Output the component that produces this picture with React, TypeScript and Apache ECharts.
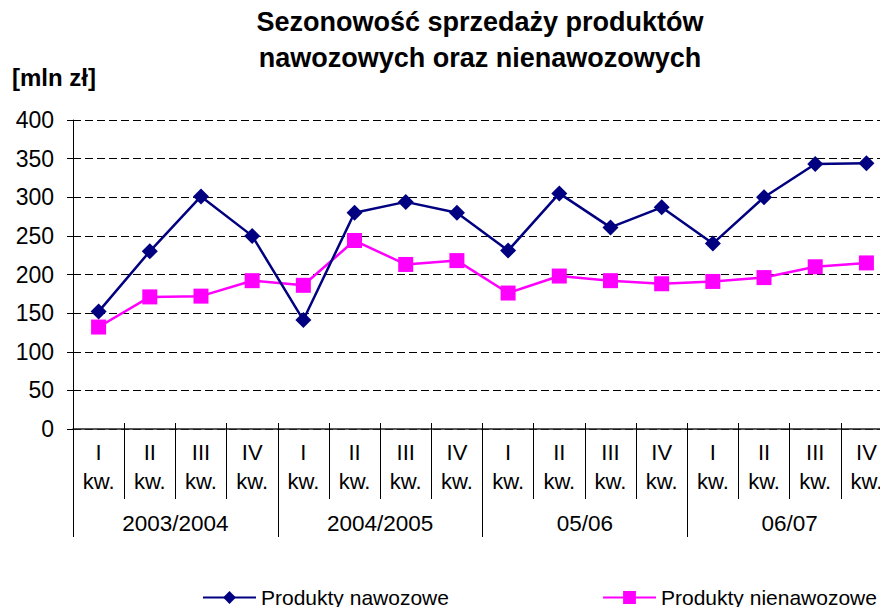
import React, { useEffect, useRef } from "react";
import * as echarts from "echarts";

const quarters = ["I\nkw.", "II\nkw.", "III\nkw.", "IV\nkw.", "I\nkw.", "II\nkw.", "III\nkw.", "IV\nkw.", "I\nkw.", "II\nkw.", "III\nkw.", "IV\nkw.", "I\nkw.", "II\nkw.", "III\nkw.", "IV\nkw."];
const years = ["2003/2004", "2004/2005", "05/06", "06/07"];
const nawozowe = [152, 230, 301, 250, 141, 280, 294, 280, 231, 305, 261, 287, 240, 300, 343, 344];
const nienawozowe = [132, 171, 172, 192, 186, 244, 213, 218, 176, 198, 192, 188, 191, 196, 210, 215];
const titleText = "Sezonowość sprzedaży produktów\nnawozowych oraz nienawozowych";
const unitText = "[mln zł]";
const seriesNames = ["Produkty nawozowe", "Produkty nienawozowe"];

const FONT = "'Liberation Sans', Arial, sans-serif";

export default function App() {
  const ref = useRef<HTMLDivElement>(null);
  useEffect(() => {
    if (!ref.current) return;
    const chart = echarts.init(ref.current, null, { renderer: "svg" });
    const gridLeft = 73;
    const gridWidth = 819;
    chart.setOption({
      animation: false,
      textStyle: { fontFamily: FONT, color: "#000" },
      title: [
        {
          text: titleText,
          left: 480,
          top: 4,
          padding: 0,
          textAlign: "center",
          textStyle: { fontFamily: FONT, fontWeight: "bold", fontSize: 27, lineHeight: 36, color: "#000" },
        },
        {
          text: unitText,
          left: 12,
          top: 65,
          padding: 0,
          textStyle: { fontFamily: FONT, fontWeight: "bold", fontSize: 24, color: "#000" },
        },
      ],
      legend: [
        {
          data: [seriesNames[0]],
          left: 202,
          top: 587,
          padding: 0,
          itemWidth: 53,
          itemHeight: 16,
          itemGap: 5,
          textStyle: { fontFamily: FONT, fontSize: 21, color: "#000" },
        },
        {
          data: [seriesNames[1]],
          left: 602,
          top: 587,
          padding: 0,
          itemWidth: 53,
          itemHeight: 16,
          itemGap: 5,
          textStyle: { fontFamily: FONT, fontSize: 21, color: "#000" },
        },
      ],
      grid: { left: gridLeft, top: 120, width: gridWidth, height: 309, containLabel: false },
      xAxis: [
        {
          type: "category",
          data: quarters,
          boundaryGap: true,
          position: "bottom",
          axisLine: { show: true, lineStyle: { color: "#222", width: 1.5 } },
          axisTick: { show: true, interval: 0, length: 70, lineStyle: { color: "#000", width: 1 } },
          axisLabel: {
            interval: 0,
            margin: 9,
            fontFamily: FONT,
            fontSize: 22,
            lineHeight: 29,
            color: "#000",
          },
          splitLine: { show: false },
        },
        {
          type: "category",
          data: years,
          boundaryGap: true,
          position: "bottom",
          axisLine: { show: false },
          axisTick: { show: true, interval: 0, length: 108, lineStyle: { color: "#000", width: 1 } },
          axisLabel: {
            interval: 0,
            margin: 83,
            fontFamily: FONT,
            fontSize: 22.5,
            color: "#000",
          },
          splitLine: { show: false },
        },
        {
          type: "category",
          data: quarters,
          boundaryGap: true,
          position: "bottom",
          axisLine: { show: false },
          axisTick: { show: true, inside: true, interval: 0, length: 6, lineStyle: { color: "#000", width: 1 } },
          axisLabel: { show: false },
          splitLine: { show: false },
        },
      ],
      yAxis: {
        type: "value",
        min: 0,
        max: 400,
        interval: 50,
        axisLine: { show: true, lineStyle: { color: "#000", width: 1 } },
        axisTick: { show: true, length: 6, lineStyle: { color: "#000" } },
        axisLabel: { margin: 19, fontFamily: FONT, fontSize: 23, color: "#000" },
        splitLine: { show: true, lineStyle: { color: "#000", width: 1, type: [8, 4] } },
      },
      series: [
        {
          name: seriesNames[0],
          type: "line",
          xAxisIndex: 0,
          data: nawozowe,
          symbol: "diamond",
          symbolSize: 16,
          itemStyle: { color: "#000080" },
          lineStyle: { color: "#000080", width: 2.5 },
          z: 3,
        },
        {
          name: seriesNames[1],
          type: "line",
          xAxisIndex: 0,
          data: nienawozowe,
          symbol: "rect",
          symbolSize: 15,
          itemStyle: { color: "#FF00FF" },
          lineStyle: { color: "#FF00FF", width: 2.5 },
          z: 2,
        },
      ],
    });
    return () => chart.dispose();
  }, []);
  return (
    <div style={{ position: "fixed", left: 0, top: 0, width: 880, height: 607, overflow: "hidden", background: "#fff" }}>
      <div ref={ref} style={{ width: 900, height: 607 }} />
    </div>
  );
}
